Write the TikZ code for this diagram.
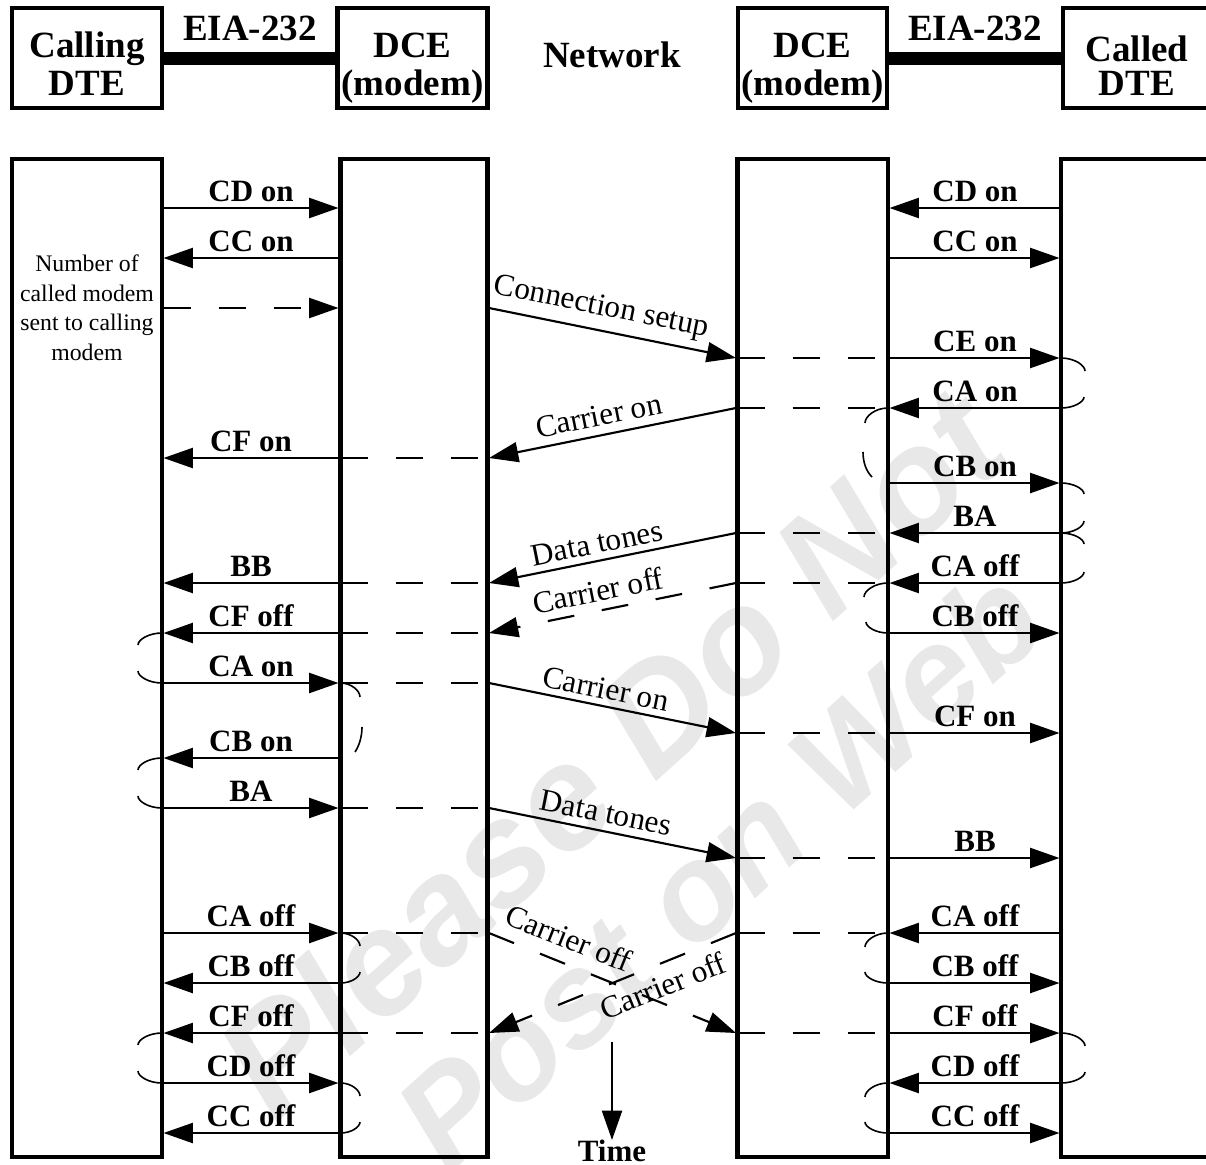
\documentclass[tikz,border=0pt]{standalone}
\usepackage{fontspec}
\setmainfont{Liberation Serif}
\newfontfamily\wmfont{Liberation Sans}
\usetikzlibrary{arrows.meta}

\tikzset{
 box/.style={draw, line width=3.4pt, inner sep=0pt},
 sig/.style={line width=1.6pt, -{Triangle[length=22pt,width=15pt]}},
 sigdash/.style={sig, dash pattern=on 20.25pt off 21pt},
 ext/.style={line width=1.8pt, dash pattern=on 20.25pt off 21pt},
 brk/.style={line width=1.2pt},
 lab/.style={font=\fontsize{23.25}{26}\selectfont\bfseries, anchor=base, inner sep=0pt},
 nlab/.style={font=\fontsize{23.5}{26}\selectfont, anchor=base, inner sep=0pt},
 small/.style={font=\fontsize{17.8}{22}\selectfont, anchor=base, inner sep=0pt},
 head/.style={font=\fontsize{27.75}{30}\selectfont\bfseries, anchor=base, inner sep=0pt},
 bar/.style={line width=9.75pt},
 wm/.style={font=\wmfont\fontsize{111}{120}\selectfont\bfseries\itshape, text=black!9, inner sep=0pt, rotate=42}
}

\newcommand\LR[2]{\draw[sig] (163.5,#1) -- (338.5,#1); \node[lab] at (251,#1-7) {#2};}
\newcommand\LL[2]{\draw[sig] (338.5,#1) -- (163.5,#1); \node[lab] at (251,#1-7) {#2};}
\newcommand\RR[2]{\draw[sig] (889.5,#1) -- (1059.5,#1); \node[lab] at (975,#1-7) {#2};}
\newcommand\RL[2]{\draw[sig] (1059.5,#1) -- (889.5,#1); \node[lab] at (975,#1-7) {#2};}
\newcommand\XL[1]{\draw[ext] (340.5,#1) -- (487.5,#1);}
\newcommand\XR[1]{\draw[ext] (737.5,#1) -- (888,#1);}
\newcommand\brc[4]{\draw[brk] (#1,#2) .. controls ({#1+0.55*(#3-#1)},#2) and (#3,{#4-0.45*(#4-#2)}) .. (#3,#4);}

\begin{document}
\begin{tikzpicture}[x=0.75pt,y=-0.75pt]
\useasboundingbox (0,0) rectangle (1206,1164);
\clip (0,0) rectangle (1206,1164);
\fill[white] (0,0) rectangle (1206,1164);

% watermark
\node[wm] (wm1) at (610,752) {Please Do Not};
\node[wm, font=\wmfont\fontsize{101}{110}\selectfont\bfseries\itshape] (wm2) at (718,868) {Post on Web};

% header boxes
\node[box, minimum width=112.5pt, minimum height=75pt] (cdte) at (87,58) {};
\node[box, minimum width=112.5pt, minimum height=75pt] (ldce) at (412.5,58) {};
\node[box, minimum width=111.75pt, minimum height=75pt] (rdce) at (812.5,58) {};
\node[box, minimum width=117.75pt, minimum height=75pt] (ddte) at (1141.5,58) {};
\draw[bar] (cdte.east |- 0,58.5) -- (ldce.west |- 0,58.5);
\draw[bar] (rdce.east |- 0,58.5) -- (ddte.west |- 0,58.5);

\node[head] (h1) at (87,57) {Calling};
\node[head] (h2) at (87,95) {DTE};
\node[head] (h3) at (250,40) {EIA-232};
\node[head] (h4) at (412.5,57) {DCE};
\node[head] (h5) at (412.5,95) {(modem)};
\node[head] (h6) at (612,67) {Network};
\node[head] (h7) at (812.5,57) {DCE};
\node[head] (h8) at (812.5,95) {(modem)};
\node[head] (h9) at (975,40) {EIA-232};
\node[head] (h10) at (1137,61) {Called};
\node[head] (h11) at (1137,95) {DTE};

% left side signals
\LR{208}{CD on}
\LL{258}{CC on}
\draw[sigdash] (163.5,308) -- (338.5,308);
\LL{458}{CF on} \XL{458}
\LL{583}{BB} \XL{583}
\LL{633}{CF off} \XL{633}
\LR{683}{CA on} \XL{683}
\LL{758}{CB on}
\LR{808}{BA} \XL{808}
\LR{933}{CA off} \XL{933}
\LL{983}{CB off}
\LL{1033}{CF off} \XL{1033}
\LR{1083}{CD off}
\LL{1133}{CC off}

\node[small] (n1) at (87,271.7) {Number of};
\node[small] (n2) at (87,301.2) {called modem};
\node[small] (n3) at (87,330.7) {sent to calling};
\node[small] (n4) at (87,360.2) {modem};

% right side signals
\RL{208}{CD on}
\RR{258}{CC on}
\RR{358}{CE on} \XR{358}
\RL{408}{CA on} \XR{408}
\RR{483}{CB on}
\RL{533}{BA} \XR{533}
\RL{583}{CA off} \XR{583}
\RR{633}{CB off}
\RR{733}{CF on} \XR{733}
\RR{858}{BB} \XR{858}
\RL{933}{CA off} \XR{933}
\RR{983}{CB off}
\RR{1033}{CF off} \XR{1033}
\RL{1083}{CD off}
\RR{1133}{CC off}

% network
\draw[sig] (489,308) -- (736,358);
\node[nlab, rotate=-11.31] (d1) at (600,315) {Connection setup};
\draw[sig] (736,408) -- (489,458);
\node[nlab, rotate=11.31] (d2) at (601,425.5) {Carrier on};
\draw[sig] (736,533) -- (489,583);
\node[nlab, rotate=11.31] (d3) at (599,553) {Data tones};
\draw[sigdash] (736,583) -- (489,633);
\node[nlab, rotate=11.31] (d4) at (600,601) {Carrier off};
\draw[sig] (489,683) -- (736,733);
\node[nlab, rotate=-11.31] (d5) at (604,698.8) {Carrier on};
\draw[sig] (489,808) -- (736,858);
\node[nlab, rotate=-11.31] (d6) at (604,822.8) {Data tones};
\draw[sigdash] (489,933) -- (736,1033);
\node[nlab, rotate=-21.8] (d7) at (565,948) {Carrier off};
\draw[sigdash] (736,933) -- (489,1033);
\node[nlab, rotate=21.8] (d8) at (667,996) {Carrier off};

% time
\coordinate (t0) at (612,1042);
\coordinate (t1) at (612,1140);
\draw[sig] (t0) -- (t1);
\node[lab] (time) at (612,1161) {Time};

% brackets right DTE
\brc{1061}{358}{1085}{371} \brc{1061}{408}{1084}{397}
\brc{1061}{483}{1084}{494} \brc{1061}{533}{1084}{521}
\brc{1061}{533}{1084}{544} \brc{1061}{583}{1084}{572}
\brc{1061}{1033}{1085}{1046} \brc{1061}{1083}{1085}{1072}
% brackets right DCE
\brc{888}{408}{865}{423}
\draw[brk] (863,452) .. controls (863,462) and (866,471) .. (872,477);
\brc{888}{583}{864}{597} \brc{888}{633}{866}{622}
\brc{888}{933}{865}{947} \brc{888}{983}{865}{972}
\brc{888}{1083}{865}{1097} \brc{888}{1133}{865}{1122}
% brackets left DTE
\brc{162}{633}{138}{645} \brc{162}{683}{138}{671}
\brc{162}{758}{138}{770} \brc{162}{808}{138}{796}
\brc{162}{1033}{138}{1045} \brc{162}{1083}{138}{1071}
% brackets left DCE
\brc{340.5}{683}{360}{697}
\draw[brk] (362,727) .. controls (362,737) and (359,746) .. (355,752);
\brc{340.5}{933}{360}{946} \brc{340.5}{983}{360}{972}
\brc{340.5}{1083}{360}{1096} \brc{340.5}{1133}{360}{1122}

% timeline boxes
\draw[box] (12,159) rectangle (162,1157);
\draw[box] (340.5,159) rectangle (487.5,1157);
\draw[box] (737.5,159) rectangle (888,1157);
\draw[box] (1061,159) rectangle (1240,1157);
\end{tikzpicture}
\end{document}
